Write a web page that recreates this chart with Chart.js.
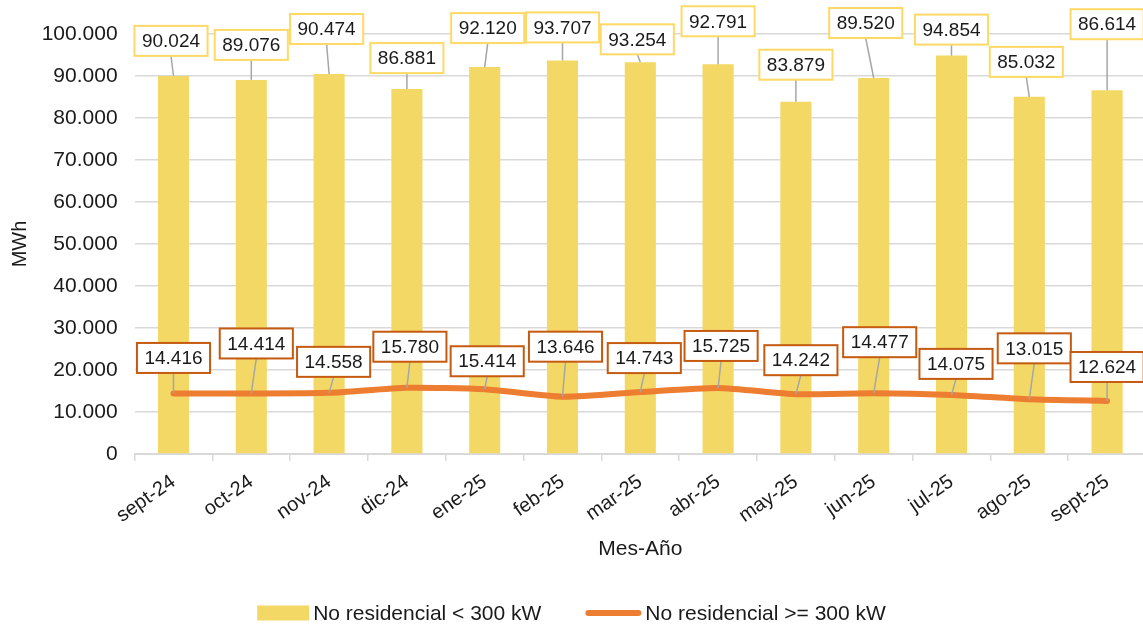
<!DOCTYPE html>
<html><head><meta charset="utf-8">
<script src="https://cdn.jsdelivr.net/npm/chart.js@4.4.1/dist/chart.umd.min.js"></script>
<style>html,body{margin:0;padding:0;overflow:hidden;background:#fff}canvas{display:block}</style>
</head><body>
<canvas id="c" width="1146" height="626"></canvas>
<script>
const categories = ['sept-24','oct-24','nov-24','dic-24','ene-25','feb-25','mar-25','abr-25','may-25','jun-25','jul-25','ago-25','sept-25'];
const seriesNames = ['No residencial < 300 kW', 'No residencial >= 300 kW'];
const smallValues = [90024, 89076, 90474, 86881, 92120, 93707, 93254, 92791, 83879, 89520, 94854, 85032, 86614];
const largeValues = [14416, 14414, 14558, 15780, 15414, 13646, 14743, 15725, 14242, 14477, 14075, 13015, 12624];
const yTickValues = [0, 10000, 20000, 30000, 40000, 50000, 60000, 70000, 80000, 90000, 100000];
const xTitle = 'Mes-Año';
const yTitle = 'MWh';

// label placement (pixel offsets of label box centre from its mark)
const barLabelOffsets = [[-2.5,-35],[0,-35],[-2.5,-45],[0,-31],[3,-39],[0,-33],[-3,-23],[0,-43],[0,-37],[-8,-55],[0,-26],[-3,-35],[0,-66]];
const lineLabelOffsets = [[0,-35.5],[5,-50],[4.5,-31],[3,-41],[2.5,-28],[3,-50],[4,-34],[3,-42],[5,-34],[6,-51],[4.5,-31],[5,-51],[0,-34]];

const FONT = '"Liberation Sans", Arial, Helvetica, sans-serif';
const TEXT = '#1a1a1a';
const BAR = '#F3D865';
const BAR_LABEL_BORDER = '#FFD966';
const LINE = '#ED7D31';
const LINE_LABEL_BORDER = '#C55A11';
const GRID = '#d9d9d9';

function fmt(v) { return String(v).replace(/\B(?=(\d{3})+(?!\d))/g, '.'); }

const labelPlugin = {
  id: 'boxLabels',
  afterDatasetsDraw(chart) {
    const ctx = chart.ctx;
    ctx.save();
    ctx.font = '19px ' + FONT;
    ctx.textAlign = 'center';
    ctx.textBaseline = 'middle';
    const sets = [
      {meta: chart.getDatasetMeta(0), data: smallValues, offs: barLabelOffsets, border: BAR_LABEL_BORDER},
      {meta: chart.getDatasetMeta(1), data: largeValues, offs: lineLabelOffsets, border: LINE_LABEL_BORDER}
    ];
    sets.forEach(s => {
      s.meta.data.forEach((el, i) => {
        const px = el.x, py = el.y;
        const cx = px + s.offs[i][0], cy = py + s.offs[i][1];
        const txt = fmt(s.data[i]);
        const w = ctx.measureText(txt).width + 15, h = 30;
        const bx = cx - w / 2, by = cy - h / 2;
        ctx.strokeStyle = '#a6a6a6';
        ctx.lineWidth = 1.5;
        ctx.beginPath();
        ctx.moveTo(cx, by + h);
        ctx.lineTo(px, py);
        ctx.stroke();
        ctx.fillStyle = '#ffffff';
        ctx.fillRect(bx, by, w, h);
        ctx.strokeStyle = s.border;
        ctx.lineWidth = 2;
        ctx.strokeRect(bx, by, w, h);
        ctx.fillStyle = TEXT;
        ctx.fillText(txt, cx, cy + 1);
      });
    });
    ctx.restore();
  }
};

const legendPlugin = {
  id: 'bottomLegend',
  afterDraw(chart) {
    const ctx = chart.ctx;
    ctx.save();
    ctx.font = '21px ' + FONT;
    ctx.textBaseline = 'middle';
    ctx.textAlign = 'left';
    const t1 = chart.data.datasets[0].label, t2 = chart.data.datasets[1].label;
    const w1 = ctx.measureText(t1).width, w2 = ctx.measureText(t2).width;
    const total = 52 + 4 + w1 + 44 + 56 + 4 + w2;
    let x = 571.5 - total / 2;
    const y = 613;
    ctx.fillStyle = chart.data.datasets[0].backgroundColor;
    ctx.fillRect(x, y - 7.5, 52, 15);
    x += 56;
    ctx.fillStyle = TEXT;
    ctx.fillText(t1, x, y + 1);
    x += w1 + 44;
    ctx.strokeStyle = chart.data.datasets[1].borderColor;
    ctx.lineWidth = 6;
    ctx.lineCap = 'round';
    ctx.beginPath();
    ctx.moveTo(x + 3, y);
    ctx.lineTo(x + 53, y);
    ctx.stroke();
    x += 60;
    ctx.fillText(t2, x, y + 1);
    ctx.restore();
  }
};

new Chart(document.getElementById('c'), {
  data: {
    labels: categories,
    datasets: [
      {type: 'bar', label: seriesNames[0], data: smallValues, backgroundColor: BAR, barPercentage: 0.4, categoryPercentage: 1, order: 2},
      {type: 'line', label: seriesNames[1], data: largeValues, borderColor: LINE, backgroundColor: LINE, borderWidth: 6, pointRadius: 0, tension: 0.2, borderCapStyle: 'round', borderJoinStyle: 'round', order: 1}
    ]
  },
  options: {
    responsive: false,
    animation: false,
    layout: {padding: {top: 34, left: 0, right: 0, bottom: 0}},
    plugins: {legend: {display: false}, tooltip: {enabled: false}},
    scales: {
      x: {
        offset: true,
        grid: {display: true, drawOnChartArea: false, drawTicks: true, tickLength: 7, color: GRID, lineWidth: 1.5, offset: true},
        border: {display: true, color: GRID, width: 2},
        ticks: {color: TEXT, font: {family: FONT, size: 20}, minRotation: 35, maxRotation: 35, padding: 9},
        title: {display: true, text: xTitle, color: TEXT, font: {family: FONT, size: 21}, padding: {top: 0, bottom: 64}},
        afterFit(scale) { scale.height = 626 - 454; }
      },
      y: {
        min: 0, max: 100000,
        afterBuildTicks(scale) { scale.ticks = yTickValues.map(v => ({value: v})); },
        grid: {color: GRID, lineWidth: 1.5, drawTicks: false},
        border: {display: false},
        ticks: {color: TEXT, font: {family: FONT, size: 21}, padding: 17, callback: v => fmt(v)},
        title: {display: true, text: yTitle, color: TEXT, font: {family: FONT, size: 20}, padding: {top: 8, bottom: 0}},
        afterFit(scale) { scale.width = 134.6; }
      }
    }
  },
  plugins: [labelPlugin, legendPlugin]
});
</script>
</body></html>
